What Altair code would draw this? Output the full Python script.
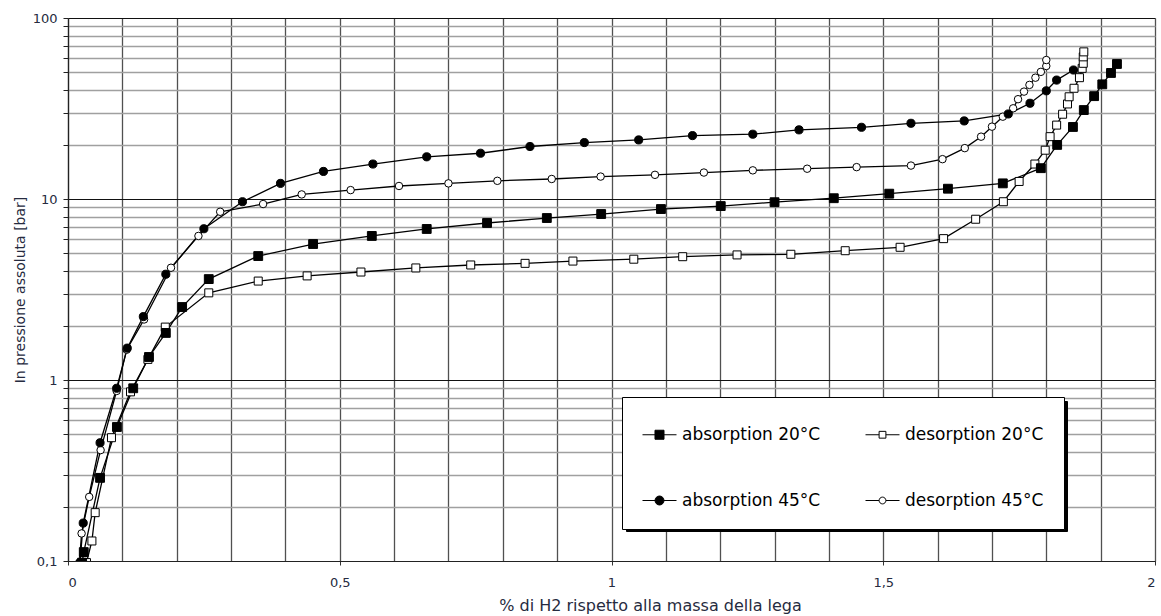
import altair as alt
import pandas as pd

series_names = ["absorption 20°C", "desorption 20°C", "absorption 45°C", "desorption 45°C"]

abs20_x = [0.026, 0.029, 0.059, 0.09, 0.12, 0.149, 0.18, 0.21, 0.259, 0.35, 0.451, 0.559, 0.66, 0.771,
           0.881, 0.981, 1.091, 1.201, 1.30, 1.409, 1.511, 1.619, 1.72, 1.79, 1.82, 1.849, 1.869,
           1.888, 1.903, 1.919, 1.93]
abs20_y = [0.098, 0.112, 0.288, 0.55, 0.90, 1.34, 1.82, 2.53, 3.61, 4.84, 5.64, 6.25, 6.83, 7.37,
           7.85, 8.26, 8.8, 9.14, 9.6, 10.1, 10.7, 11.4, 12.2, 14.8, 19.9, 25.0, 31.0,
           37.0, 43.0, 49.7, 55.7]

des20_x = [0.034, 0.044, 0.05, 0.08, 0.115, 0.147, 0.179, 0.259, 0.35, 0.44, 0.539, 0.64, 0.741,
           0.841, 0.929, 1.041, 1.131, 1.231, 1.33, 1.43, 1.531, 1.611, 1.67, 1.721, 1.75, 1.779,
           1.798, 1.807, 1.819, 1.83, 1.839, 1.842, 1.851, 1.861, 1.866, 1.868, 1.868, 1.869]
des20_y = [0.098, 0.129, 0.185, 0.48, 0.86, 1.3, 1.96, 3.03, 3.52, 3.76, 3.95, 4.16, 4.32,
           4.41, 4.54, 4.65, 4.8, 4.91, 4.95, 5.18, 5.41, 6.04, 7.73, 9.66, 12.5, 15.6,
           18.6, 22.1, 25.6, 29.4, 33.5, 36.7, 40.9, 46.8, 52.7, 56.2, 61.0, 65.0]

abs45_x = [0.022, 0.028, 0.059, 0.0895, 0.109, 0.1386, 0.18, 0.25, 0.321, 0.391, 0.47, 0.561, 0.66,
           0.759, 0.85, 0.95, 1.05, 1.149, 1.26, 1.345, 1.46, 1.551, 1.649, 1.73, 1.77, 1.80,
           1.819, 1.85]
abs45_y = [0.098, 0.162, 0.45, 0.90, 1.50, 2.24, 3.84, 6.85, 9.66, 12.2, 14.2, 15.6, 17.1,
           17.9, 19.5, 20.5, 21.2, 22.4, 22.8, 24.1, 24.9, 26.2, 27.0, 29.5, 33.8, 39.6,
           45.4, 51.6]

des45_x = [0.021, 0.025, 0.039, 0.06, 0.0895, 0.108, 0.14, 0.1895, 0.24, 0.28, 0.359, 0.43, 0.52,
           0.609, 0.70, 0.79, 0.89, 0.98, 1.08, 1.17, 1.26, 1.36, 1.451, 1.551, 1.609, 1.65,
           1.68, 1.70, 1.72, 1.739, 1.748, 1.759, 1.769, 1.78, 1.79, 1.80, 1.80]
des45_y = [0.098, 0.142, 0.226, 0.41, 0.87, 1.47, 2.16, 4.17, 6.25, 8.5, 9.38, 10.6, 11.2,
           11.8, 12.2, 12.6, 12.9, 13.3, 13.6, 14.0, 14.4, 14.7, 15.0, 15.3, 16.6, 19.1,
           22.1, 25.1, 28.5, 31.7, 35.6, 39.2, 42.7, 46.8, 50.4, 54.3, 58.6]

x_ticks = [0, 0.1, 0.2, 0.3, 0.4, 0.5, 0.6, 0.7, 0.8, 0.9, 1, 1.1, 1.2, 1.3, 1.4, 1.5,
           1.6, 1.7, 1.8, 1.9, 2]
y_ticks = [0.1, 0.2, 0.3, 0.4, 0.5, 0.6, 0.7, 0.8, 0.9,
           1, 2, 3, 4, 5, 6, 7, 8, 9,
           10, 20, 30, 40, 50, 60, 70, 80, 90, 100]

# drawing order: desorption first so filled markers sit on top
series_data = [
    ("desorption 20°C", des20_x, des20_y, "square", "white", 64),
    ("desorption 45°C", des45_x, des45_y, "circle", "white", 56),
    ("absorption 20°C", abs20_x, abs20_y, "square", "black", 78),
    ("absorption 45°C", abs45_x, abs45_y, "circle", "black", 66),
]
rows = []
for name, xs, ys, _s, _f, _z in series_data:
    for i, (xv, yv) in enumerate(zip(xs, ys)):
        rows.append({"series": name, "x": xv, "y": yv, "i": i})
df = pd.DataFrame(rows)

label_color = "#262b40"
font = "DejaVu Sans"

major_test = "datum.value == 0.1 || datum.value == 1 || datum.value == 10 || datum.value == 100"
half_test = "datum.value == 0 || datum.value == 0.5 || datum.value == 1 || datum.value == 1.5 || datum.value == 2"

x_enc = alt.X(
    "x:Q",
    scale=alt.Scale(domain=[0, 2], nice=False, zero=False),
    axis=alt.Axis(
        values=x_ticks,
        title="% di H2 rispetto alla massa della lega",
        titleFont=font, titleFontSize=16, titleFontWeight="normal", titleColor=label_color,
        titleX=582, titleY=49, titleBaseline="alphabetic", titleAlign="center",
        labelExpr="datum.value == 0 ? '0' : datum.value == 0.5 ? '0,5' : datum.value == 1 ? '1' : datum.value == 1.5 ? '1,5' : datum.value == 2 ? '2' : ''",
        labelFont=font, labelFontSize=13, labelColor=label_color, labelPadding=11,
        tickSize=4,
        tickColor={"condition": {"test": half_test, "value": "#333333"}, "value": "transparent"},
        grid=True, gridColor="#505050", gridWidth=1.3,
        domainColor="#222222", domainWidth=1.2,
        labelOverlap=False,
    ),
)
y_enc = alt.Y(
    "y:Q",
    scale=alt.Scale(type="log", domain=[0.1, 100], nice=False),
    axis=alt.Axis(
        values=y_ticks,
        title="In pressione assoluta [bar]",
        titleFont=font, titleFontSize=14, titleFontWeight="normal", titleColor=label_color,
        titlePadding=5,
        labelExpr="datum.value == 0.1 ? '0,1' : datum.value == 1 ? '1' : datum.value == 10 ? '10' : datum.value == 100 ? '100' : ''",
        labelFont=font, labelFontSize=13, labelColor=label_color, labelPadding=6,
        tickSize=5, tickColor="#222222",
        grid=True,
        gridColor={"condition": {"test": major_test, "value": "#111111"}, "value": "#a0a0a0"},
        gridWidth={"condition": {"test": major_test, "value": 1.2}, "value": 1.6},
        domainColor="#222222", domainWidth=1.2,
        labelOverlap=False,
    ),
)

base = alt.Chart(df)

lines = base.mark_line(color="black", strokeWidth=1.3, clip=True).encode(
    x=x_enc, y=y_enc, detail="series:N", order="i:Q"
)

point_layers = []
for name, _xs, _ys, shp, fil, sz in series_data:
    point_layers.append(
        base.transform_filter(alt.datum.series == name).mark_point(
            filled=True, shape=shp, fill=fil, stroke="black", strokeWidth=1,
            opacity=1, size=sz, clip=True
        ).encode(x=x_enc, y=y_enc)
    )

# legend symbols: line segment with marker in the middle (unit coords, scaled by sqrt(size)/2)
path_sq = "M-1,0H-0.265M0.265,0H1M-0.265,-0.265H0.265V0.265H-0.265Z"
path_sq_open = "M-1,0H-0.2M0.2,0H1M-0.2,-0.2H0.2V0.2H-0.2Z"
path_c = "M-1,0H-0.265M0.265,0H1M-0.265,0A0.265,0.265,0,1,0,0.265,0A0.265,0.265,0,1,0,-0.265,0Z"
path_c_open = "M-1,0H-0.2M0.2,0H1M-0.2,0A0.2,0.2,0,1,0,0.2,0A0.2,0.2,0,1,0,-0.2,0Z"

legend_def = alt.Legend(
    title=None, orient="none", direction="horizontal",
    legendX=554, legendY=379, fillColor="white", strokeColor="black",
    columns=2, columnPadding=42, rowPadding=40, padding=20,
    labelFont=font, labelFontSize=17, labelOffset=5, labelColor="black",
    symbolSize=1156, symbolStrokeWidth=1, symbolOpacity=1,
)
# black drop shadow box: a label-less legend of the same outer size, offset by 4 px
shadow_def = alt.Legend(
    title=None, orient="none", direction="horizontal",
    legendX=558, legendY=383, fillColor="black", strokeColor="black",
    columns=2, columnPadding=323, rowPadding=22, padding=20,
    labelExpr="''", labelOffset=5, labelFontSize=17,
    symbolSize=1156, symbolStrokeWidth=0, symbolOpacity=1,
)

shadow_layer = base.transform_filter("false").mark_point(
    filled=True, size=1156, opacity=1
).encode(
    x=x_enc,
    y=y_enc,
    color=alt.Color("series:N", scale=alt.Scale(domain=series_names[::-1],
                    range=["black", "black", "black", "black"]), legend=shadow_def),
)

legend_layer = base.transform_filter("false").mark_point(
    filled=True, size=1156, opacity=1
).encode(
    x=x_enc,
    y=y_enc,
    shape=alt.Shape("series:N", scale=alt.Scale(domain=series_names,
                    range=[path_sq, path_sq_open, path_c, path_c_open]), legend=legend_def),
    fill=alt.Fill("series:N", scale=alt.Scale(domain=series_names,
                  range=["black", "white", "black", "white"]), legend=legend_def),
    stroke=alt.Stroke("series:N", scale=alt.Scale(domain=series_names,
                      range=["black", "black", "black", "black"]), legend=legend_def),
)

chart = alt.layer(lines, *point_layers, shadow_layer, legend_layer).properties(
    width=1087, height=543,
    padding={"left": 68, "top": 18, "right": 6, "bottom": 55},
    autosize=alt.AutoSizeParams(type="none"),
    background="white",
).configure_view(stroke=None)

chart.save("out.html", embed_options={"renderer": "svg", "actions": False})
